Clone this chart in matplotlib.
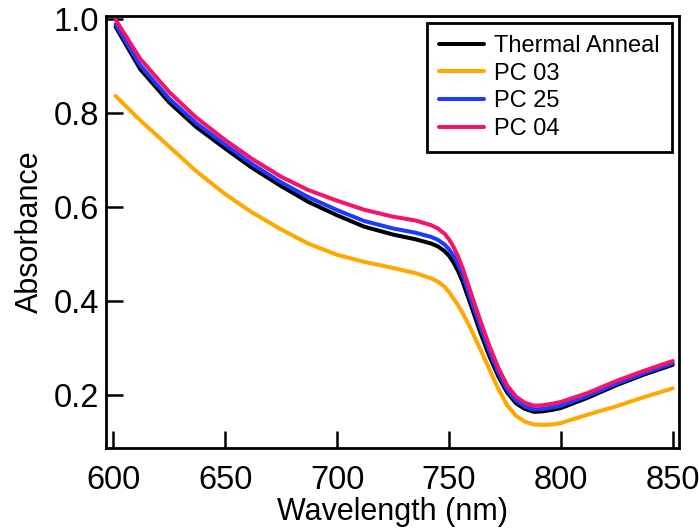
import numpy as np
import matplotlib
matplotlib.use('Agg')
import matplotlib.pyplot as plt

# absorbance spectra, read at common wavelengths (nm)
wavelength = [601, 612, 625, 637, 650, 662, 675, 687, 700, 712, 725, 735, 742, 745, 748, 750,
              752, 754, 756, 760, 764, 768, 772, 776, 780, 784, 788, 792, 796, 800, 812, 825,
              837, 850]

thermal_anneal = [0.983, 0.893, 0.822, 0.770, 0.724, 0.683, 0.644, 0.611, 0.582, 0.558, 0.541,
                  0.531, 0.522, 0.516, 0.506, 0.496, 0.482, 0.464, 0.442, 0.388, 0.333, 0.283,
                  0.240, 0.205, 0.182, 0.170, 0.164, 0.165, 0.168, 0.172, 0.194, 0.221, 0.243,
                  0.264]
pc03 = [0.836, 0.784, 0.728, 0.676, 0.627, 0.588, 0.552, 0.522, 0.498, 0.483, 0.470, 0.459,
        0.448, 0.441, 0.430, 0.419, 0.405, 0.391, 0.375, 0.338, 0.297, 0.255, 0.213, 0.178,
        0.155, 0.143, 0.137, 0.136, 0.137, 0.140, 0.158, 0.176, 0.195, 0.214]
pc25 = [0.988, 0.901, 0.830, 0.778, 0.732, 0.691, 0.652, 0.621, 0.593, 0.570, 0.554, 0.545,
        0.536, 0.530, 0.520, 0.510, 0.496, 0.478, 0.456, 0.400, 0.345, 0.293, 0.248, 0.211,
        0.188, 0.175, 0.169, 0.170, 0.173, 0.177, 0.198, 0.224, 0.246, 0.267]
pc04 = [0.998, 0.915, 0.844, 0.790, 0.742, 0.702, 0.664, 0.636, 0.613, 0.594, 0.579, 0.571,
        0.561, 0.554, 0.543, 0.531, 0.515, 0.495, 0.471, 0.414, 0.358, 0.305, 0.258, 0.220,
        0.196, 0.183, 0.177, 0.178, 0.181, 0.185, 0.204, 0.230, 0.251, 0.272]

labels = ['Thermal Anneal', 'PC 03', 'PC 25', 'PC 04']
colors = ['#000000', '#FFA800', '#1A3CFF', '#F5136B']

plt.rcParams['font.family'] = ['Liberation Sans', 'DejaVu Sans']

fig = plt.figure(figsize=(6.99, 5.29), dpi=100)
ax = fig.add_axes([0.1516, 0.1531, 0.8198, 0.8167])

x = np.array(wavelength)
for y, lab, c in zip([thermal_anneal, pc03, pc25, pc04], labels, colors):
    ax.plot(x, np.array(y), '-', color=c, lw=2.9, label=lab,
            solid_capstyle='round', solid_joinstyle='round')

ax.set_xlim(596.7, 852.8)
ax.set_ylim(0.087, 1.006)
ax.set_xticks([600, 650, 700, 750, 800, 850])
ax.set_yticks([0.2, 0.4, 0.6, 0.8, 1.0])
ax.yaxis.set_major_formatter(matplotlib.ticker.FormatStrFormatter('%.1f'))

for s in ax.spines.values():
    s.set_linewidth(2)
ax.tick_params(direction='in', length=12, width=1.8, labelsize=23.5, pad=5)
ax.tick_params(axis='x', pad=12)

ax.set_xlabel('Wavelength (nm)', fontsize=22, labelpad=1)
ax.set_ylabel('Absorbance', fontsize=22, labelpad=6)

leg = ax.legend(loc='upper right', fontsize=17, frameon=True, fancybox=False,
                borderaxespad=0.3, handlelength=1.9, handletextpad=0.45,
                labelspacing=0.24, borderpad=0.5)
leg.get_frame().set_edgecolor('black')
leg.get_frame().set_linewidth(2)
leg.get_frame().set_alpha(1)

plt.savefig('out.png', dpi=100)
